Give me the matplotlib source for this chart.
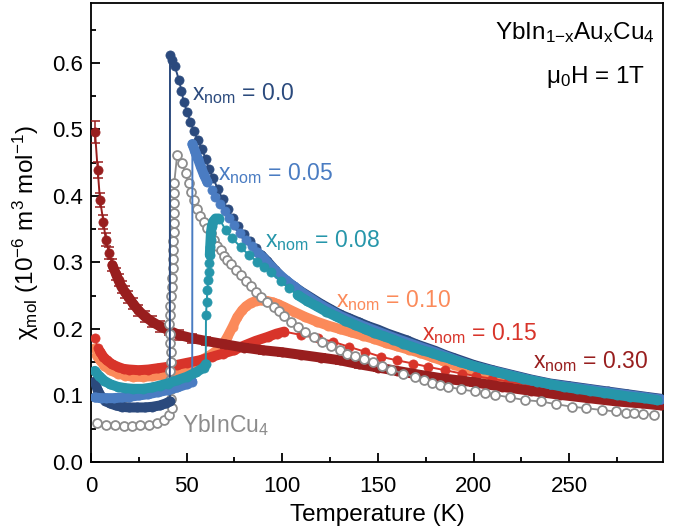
import numpy as np
import matplotlib
matplotlib.use("Agg")
import matplotlib.pyplot as plt

plt.rcParams["font.family"] = ["Liberation Sans", "DejaVu Sans"]
plt.rcParams["mathtext.fontset"] = "custom"
plt.rcParams["mathtext.rm"] = "Liberation Sans"
plt.rcParams["mathtext.it"] = "Liberation Sans"
plt.rcParams["mathtext.default"] = "regular"

# --- data (T in K, chi in 1e-6 m^3/mol) ---
T_00 = [2, 3.7, 5.5, 7.5, 10, 13, 16, 20, 24, 28, 32, 36, 39, 41.2,
        41.3, 42.4, 43.8, 45.9, 47.3, 48.5, 50.3, 52.0, 53.7, 55.8, 58.1, 59.9,
        61.6, 63.8, 66.2, 68.8, 71.5, 74.2, 77, 80, 83, 86, 89, 92, 96, 100,
        105, 110, 115, 120, 125, 130, 135, 140, 145, 150, 155, 160, 165, 170,
        175, 180, 185, 190, 195, 200, 210, 220, 230, 240, 250, 260, 270, 280,
        290, 298]
chi_00 = [0.121, 0.106, 0.098, 0.092, 0.088, 0.085, 0.083, 0.082, 0.082,
          0.082, 0.083, 0.085, 0.088, 0.091,
          0.612, 0.604, 0.595, 0.575, 0.558, 0.541, 0.526, 0.511, 0.498, 0.484,
          0.470, 0.456, 0.441, 0.427, 0.411, 0.395, 0.380, 0.367, 0.355, 0.343,
          0.332, 0.321, 0.311, 0.302, 0.289, 0.277, 0.266, 0.256, 0.247, 0.238,
          0.230, 0.222, 0.216, 0.210, 0.204, 0.199, 0.193, 0.188, 0.183, 0.177,
          0.172, 0.167, 0.161, 0.156, 0.151, 0.146, 0.138, 0.131, 0.124, 0.118,
          0.114, 0.110, 0.106, 0.102, 0.098, 0.095]

T_05 = [2, 5, 8, 12, 16, 20, 25, 30, 35, 40, 45, 50, 52.9,
        53.0, 54.5, 56, 57.5, 59, 60.8, 63, 65, 67.3, 69.8, 72.3, 75, 78, 81,
        84, 87, 90, 94, 98, 102, 106, 110, 120, 130, 140, 150, 160, 170, 180,
        190, 200, 210, 220, 230, 240, 250, 260, 270, 280, 290, 298]
chi_05 = [0.097, 0.096, 0.096, 0.096, 0.097, 0.098, 0.100, 0.102, 0.105,
          0.108, 0.112, 0.117, 0.121,
          0.478, 0.466, 0.455, 0.443, 0.432, 0.421, 0.409, 0.399, 0.388, 0.377,
          0.367, 0.356, 0.345, 0.334, 0.324, 0.315, 0.307, 0.294, 0.283, 0.273,
          0.264, 0.255, 0.236, 0.220, 0.207, 0.196, 0.185, 0.175, 0.165, 0.154,
          0.144, 0.137, 0.130, 0.123, 0.117, 0.113, 0.109, 0.105, 0.101, 0.097,
          0.094]

T_08 = [2, 4, 7, 10, 14, 18, 22, 27, 32, 36, 40, 45, 50, 55, 59, 60.0,
        60.1, 60.5, 60.8, 61.2, 61.5, 61.8, 62.1, 62.3, 62.5, 62.7, 63.2, 64,
        65.1, 66.9, 70.4, 73.9, 78.3, 82.6, 87, 90.5, 94, 99.3, 103.6, 108,
        113, 118, 123, 128, 133, 138, 143, 148, 153, 158, 163, 168, 173, 178,
        183, 188, 193, 198, 205, 212, 219, 226, 233, 240, 247, 254, 261, 268,
        275, 282, 289, 296]
chi_08 = [0.137, 0.130, 0.122, 0.117, 0.113, 0.111, 0.110, 0.110, 0.112,
          0.115, 0.118, 0.123, 0.128, 0.135, 0.142, 0.147,
          0.221, 0.241, 0.258, 0.273, 0.286, 0.299, 0.311, 0.323, 0.334, 0.345,
          0.355, 0.362, 0.366, 0.366, 0.349, 0.336, 0.323, 0.311, 0.301, 0.293,
          0.285, 0.272, 0.261, 0.251, 0.242, 0.234, 0.226, 0.219, 0.212, 0.206,
          0.200, 0.194, 0.189, 0.184, 0.178, 0.173, 0.168, 0.164, 0.159, 0.155,
          0.150, 0.146, 0.140, 0.135, 0.130, 0.125, 0.121, 0.117, 0.113, 0.110,
          0.107, 0.104, 0.101, 0.098, 0.096, 0.093]

T_10 = [1.8, 3, 4.7, 7, 10, 14, 18, 22, 27, 32, 37, 42, 47, 52, 57, 62, 66,
        69, 71.3, 74, 76.5, 79, 81, 83.5, 86, 88.8, 92, 95, 98, 101, 106, 112,
        118, 124, 130, 136, 142, 148, 154, 160, 166, 172, 178, 184, 190, 196,
        202, 210, 220, 230, 240, 250, 260, 270, 280, 290, 298]
chi_10 = [0.171, 0.160, 0.153, 0.145, 0.138, 0.133, 0.130, 0.128, 0.128,
          0.129, 0.131, 0.134, 0.138, 0.144, 0.152, 0.160, 0.168, 0.177, 0.188,
          0.203, 0.218, 0.228, 0.234, 0.239, 0.242, 0.243, 0.242, 0.240, 0.237,
          0.233, 0.226, 0.218, 0.211, 0.205, 0.200, 0.195, 0.190, 0.185, 0.179,
          0.174, 0.169, 0.164, 0.158, 0.152, 0.146, 0.140, 0.135, 0.129, 0.124,
          0.119, 0.114, 0.109, 0.105, 0.101, 0.098, 0.095, 0.092]

T_15 = [2, 3.5, 4.7, 6.5, 8.2, 11, 14, 17, 20, 25, 30, 35, 40, 45, 50, 57,
        63, 69, 74.7, 80, 86, 92.3, 97, 101, 109.8, 118.5, 126.4, 135, 143,
        151.8, 159.7, 168.4, 176.3, 185, 193.8, 201.5, 209.6, 218, 227, 235,
        244, 252, 261, 269, 278, 286, 295]
chi_15 = [0.187, 0.172, 0.166, 0.158, 0.153, 0.147, 0.143, 0.140, 0.139,
          0.138, 0.139, 0.141, 0.143, 0.146, 0.149, 0.153, 0.158, 0.163, 0.168,
          0.175, 0.182, 0.188, 0.193, 0.196, 0.191, 0.186, 0.181, 0.173, 0.166,
          0.158, 0.153, 0.148, 0.143, 0.138, 0.133, 0.129, 0.125, 0.121, 0.117,
          0.113, 0.110, 0.106, 0.103, 0.100, 0.097, 0.094, 0.091]

T_30 = [2.1, 3.5, 4.7, 6.5, 7.7, 9.5, 11.2, 13, 14.4, 16, 17.8, 19.6, 22,
        24.8, 28, 31.9, 36, 40.6, 46, 52.9, 60, 70, 80, 90, 100, 110, 120,
        130, 140, 150, 160, 172, 183, 200, 215, 230, 245, 260, 275, 288, 298]
chi_30 = [0.496, 0.439, 0.394, 0.361, 0.334, 0.314, 0.296, 0.283, 0.273,
          0.263, 0.255, 0.248, 0.238, 0.228, 0.219, 0.211, 0.204, 0.198, 0.191,
          0.186, 0.182, 0.177, 0.172, 0.168, 0.165, 0.161, 0.157, 0.153, 0.147,
          0.142, 0.137, 0.131, 0.126, 0.120, 0.113, 0.107, 0.101, 0.096, 0.091,
          0.088, 0.085]
err_30 = [0.016, 0.012, 0.011, 0.010, 0.010, 0.009, 0.009, 0.009, 0.009,
          0.009, 0.009, 0.009, 0.008, 0.008, 0.008, 0.008, 0.008, 0.007, 0.007,
          0.007, 0.006, 0.005, 0.005, 0.005, 0.005, 0.005, 0.005, 0.005, 0.005,
          0.005, 0.005, 0.005, 0.005, 0.005, 0.005, 0.005, 0.005, 0.005, 0.005,
          0.005, 0.005]

T_ybincu4 = [3, 7.9, 12.6, 17, 21.4, 25.7, 30.1, 34.5, 38, 40.6, 42.2, 42.0,
             41.7, 41.4, 41.5, 41.8, 41.8, 41.5, 41.2, 41.0, 41.2, 41.5, 41.8,
             42.1, 42.4, 42.7, 42.9, 43.0, 43.1, 43.2, 43.2, 43.2, 43.2, 43.3,
             43.5, 45.0, 47.6, 49.4, 51.1, 52.4, 53.7, 55.5, 57.2, 59, 60.8,
             62.5, 64.3, 66, 67.8, 69.5, 71.3, 73, 75.6, 78.3, 81, 83.5, 86,
             88.8, 92, 95.7, 98.5, 101, 104.5, 108, 112, 116.8, 121, 125.5, 130,
             134, 138, 142.5, 147.4, 152, 157, 163, 169.3, 174, 178, 182.5,
             186.8, 193.5, 200.8, 206, 211.3, 219, 227, 235, 243, 251.6, 258.6,
             267.3, 274.3, 279.6, 284, 288.3, 294.5]
chi_ybincu4 = [0.058, 0.056, 0.055, 0.054, 0.054, 0.055, 0.056, 0.058, 0.063,
               0.071, 0.081, 0.095, 0.109, 0.123, 0.137, 0.151, 0.165, 0.179,
               0.193, 0.207, 0.221, 0.235, 0.249, 0.263, 0.277, 0.291, 0.305,
               0.318, 0.332, 0.346, 0.360, 0.374, 0.389, 0.404, 0.419, 0.461,
               0.449, 0.434, 0.419, 0.406, 0.394, 0.380, 0.370, 0.361, 0.352,
               0.344, 0.334, 0.325, 0.318, 0.310, 0.303, 0.297, 0.289, 0.281,
               0.272, 0.264, 0.256, 0.248, 0.241, 0.233, 0.227, 0.220, 0.211,
               0.203, 0.196, 0.188, 0.181, 0.174, 0.168, 0.162, 0.159, 0.155,
               0.150, 0.145, 0.139, 0.133, 0.128, 0.123, 0.119, 0.116, 0.113,
               0.109, 0.106, 0.103, 0.101, 0.097, 0.093, 0.091, 0.087, 0.083,
               0.081, 0.078, 0.076, 0.074, 0.073, 0.072, 0.071]

NAVY = "#2b4a7d"
BLUE = "#4a7cc2"
TEAL = "#2696aa"
ORANGE = "#fb8a5a"
RED = "#d8342a"
DARKRED = "#981e1e"
GREY = "#8c8c8c"

MS = 6.6
BAND_LW = 7.2


def draw_filled(ax, T, chi, color, bands, z, err=None):
    T = np.asarray(T, dtype=float)
    chi = np.asarray(chi, dtype=float)
    ax.plot(T, chi, "-", color=color, lw=1.4, zorder=z)
    for lo, hi in bands:
        m = (T >= lo) & (T <= hi)
        ax.plot(T[m], chi[m], "-", color=color, lw=BAND_LW,
                solid_capstyle="round", solid_joinstyle="round", zorder=z)
    if err is not None:
        ax.errorbar(T, chi, yerr=err, fmt="none", ecolor=color,
                    elinewidth=1.1, capsize=3.6, capthick=1.1, zorder=z)
    ax.plot(T, chi, "o", color=color, ms=MS, mec=color, mew=0.5, zorder=z)


fig = plt.figure(figsize=(6.85, 5.31), dpi=100)
ax = fig.add_axes([91 / 685, 69 / 531, 572 / 685, 459 / 531])

draw_filled(ax, T_10, chi_10, ORANGE, [(2.5, 300)], 2)
draw_filled(ax, T_15, chi_15, RED, [(4, 101.5)], 3)
draw_filled(ax, T_30, chi_30, DARKRED, [(11, 300)], 4, err=err_30)
ax.plot(T_ybincu4, chi_ybincu4, "o-", color=GREY, lw=1.3, ms=6.4,
        mfc="white", mec=GREY, mew=1.3, zorder=5)
draw_filled(ax, T_00, chi_00, NAVY, [(0, 41.25), (87, 300)], 6)
draw_filled(ax, T_05, chi_05, BLUE, [(0, 52.95), (52.95, 61), (86, 300)], 7)
draw_filled(ax, T_08, chi_08, TEAL, [(0, 60.05), (62.0, 67), (105, 300)], 8)

fs_lab = 16.5
labels = [
    (52.8, 0.544, "$x_{nom}$ = 0.0", NAVY),
    (66.4, 0.424, "$x_{nom}$ = 0.05", BLUE),
    (91.0, 0.323, "$x_{nom}$ = 0.08", TEAL),
    (128.1, 0.233, "$x_{nom}$ = 0.10", ORANGE),
    (173.0, 0.183, "$x_{nom}$ = 0.15", RED),
    (231.3, 0.141, "$x_{nom}$ = 0.30", DARKRED),
    (47.4, 0.0455, "YbInCu$_4$", GREY),
]
for x, y, s, c in labels:
    ax.text(x, y, s, color=c, fontsize=fs_lab, ha="left", va="baseline",
            zorder=10)

ax.text(0.986, 0.935, "YbIn$_{1{-}x}$Au$_x$Cu$_4$", transform=ax.transAxes,
        ha="right", va="center", fontsize=17.5)
ax.text(0.969, 0.839, "μ$_0$H = 1T", transform=ax.transAxes,
        ha="right", va="center", fontsize=17.5)

ax.set_xlim(0, 299)
ax.set_ylim(0, 0.69)
ax.set_xticks([0, 50, 100, 150, 200, 250])
ax.set_xticks(np.arange(25, 300, 50), minor=True)
ax.set_yticks(np.arange(0, 0.61, 0.1))
ax.set_yticks(np.arange(0.05, 0.69, 0.1), minor=True)
ax.set_yticklabels(["0.0", "0.1", "0.2", "0.3", "0.4", "0.5", "0.6"])
ax.tick_params(which="both", direction="in", top=False, right=False,
               width=1.3, labelsize=16)
ax.tick_params(which="major", length=6.5)
ax.tick_params(which="minor", length=3.3)
ax.tick_params(axis="x", pad=10)
ax.tick_params(axis="y", pad=6)
for sp in ax.spines.values():
    sp.set_linewidth(1.3)

ax.set_xlabel("Temperature (K)", fontsize=17.5, labelpad=5)
ax.set_ylabel("χ$_{mol}$ (10$^{-6}$ m$^3$ mol$^{-1}$)", fontsize=17.5)
ax.yaxis.set_label_coords(-0.088, 0.5)

fig.savefig("out.png", dpi=100)
